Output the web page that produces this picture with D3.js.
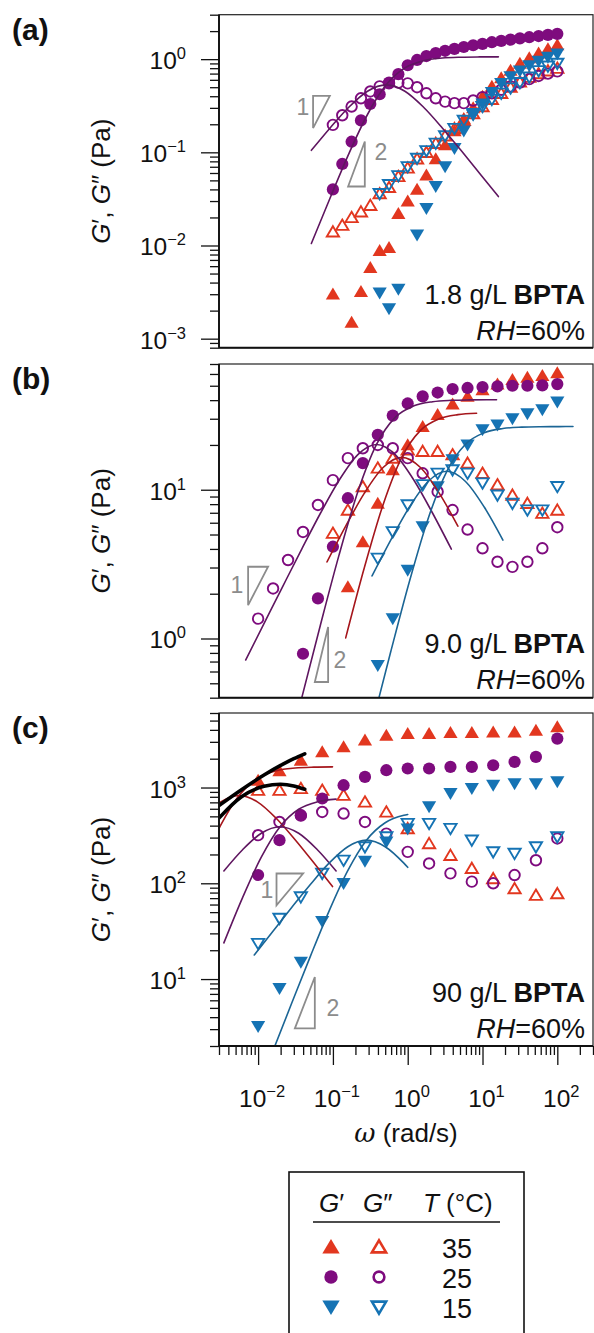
<!DOCTYPE html>
<html>
<head>
<meta charset="utf-8">
<script src="https://cdn.jsdelivr.net/npm/d3@7"></script>
<style>
  body { margin: 0; background: #fff; }
  svg text { font-family: 'Liberation Sans', Arial, sans-serif; }
</style>
</head>
<body>
<svg id="fig" width="594" height="1333"></svg>
<script>
// ---- frequency grids (rad/s) ----
const omegaA = [0.1,0.1334,0.1778,0.2371,0.3162,0.4217,0.5623,0.7499,1,1.334,1.778,2.371,3.162,4.217,5.623,7.499,10,13.34,17.78,23.71,31.62,42.17,56.23,74.99,100];
const omegaB = [0.01,0.01585,0.02512,0.03981,0.0631,0.1,0.1585,0.2512,0.3981,0.631,1,1.585,2.512,3.981,6.31,10,15.85,25.12,39.81,63.1,100];
const omegaC = [0.01,0.01931,0.03728,0.07197,0.1389,0.2683,0.5179,1,1.931,3.728,7.197,13.89,26.83,51.79,100];

// ---- (a) 1.8 g/L ----
const a35Gp  = [0.0030,null,0.0015,0.0032,0.0058,0.0088,0.0095,0.022,0.030,0.040,0.057,0.085,0.12,0.17,0.23,0.30,0.40,0.51,0.63,0.76,0.90,1.03,1.16,1.29,1.42];
const a35Gpp = [0.0140,0.0165,0.020,0.023,0.027,0.036,0.042,0.055,0.068,0.085,0.10,0.125,0.15,0.18,0.22,0.26,0.31,0.37,0.43,0.50,0.57,0.64,0.70,0.75,0.80];
const a25Gp  = [0.040,0.075,0.13,0.22,0.33,0.42,0.56,0.69,0.86,0.98,1.08,1.16,1.23,1.29,1.35,1.41,1.46,1.52,1.57,1.62,1.67,1.72,1.77,1.82,1.87];
const a25Gpp = [0.197,0.25,0.31,0.38,0.45,0.51,0.55,0.56,0.55,0.50,0.43,0.38,0.35,0.337,0.337,0.36,0.39,0.43,0.47,0.51,0.56,0.61,0.66,0.70,0.74];
const a15Gp  = [null,null,null,null,null,0.0031,0.0021,0.0034,null,0.013,0.025,0.043,0.07,0.11,0.17,0.25,0.33,0.44,0.55,0.65,0.75,0.85,0.95,1.05,1.14];
const a15Gpp = [null,null,null,null,null,0.036,0.045,0.056,0.07,0.086,0.104,0.125,0.15,0.18,0.22,0.26,0.31,0.37,0.43,0.49,0.56,0.64,0.75,0.84,0.90];

// ---- (b) 9.0 g/L ----
const b35Gp  = [null,null,null,null,null,null,2.22,4.47,8.1,13.6,20,26.6,32,37.7,42.4,47,51.3,55,57,58.4,61];
const b35Gpp = [null,null,null,null,null,5.1,7.3,10.5,14,16.3,18.5,18.1,18.1,17.2,15.1,12.9,10.8,9.2,8.1,6.95,7.3];
const b25Gp  = [null,null,null,0.79,1.86,4.14,8.77,15.1,23.4,31.5,38,42.4,45,47.5,48.3,49,49.5,50,50,50.3,51.3];
const b25Gpp = [1.36,2.17,3.37,5.2,7.9,11.6,16.3,19,20,19,16.3,12.9,9.7,7.3,5.4,4.04,3.28,3.03,3.28,4.04,5.6];
const b15Gp  = [null,null,null,null,null,null,null,null,0.66,1.36,2.88,5.65,10.5,15.9,20,25.3,27.3,30,32.4,34.5,39];
const b15Gpp = [null,null,null,null,null,null,null,null,3.46,5.22,7.9,10.8,12.9,13.6,12.9,11.1,9.2,8.1,7.3,7.3,10.5];

// ---- (c) 90 g/L ----
const c35Gp  = [1191,1490,1927,2355,2656,3119,3516,3663,3663,3750,3750,3800,3800,3963,4295];
const c35Gpp = [937,937,977,937,831,707,556,373,260,196,143,112,88,75,78];
const c25Gp  = [122,282,514,768,1057,1290,1517,1579,1579,1642,1642,1709,1851,2087,3243];
const c25Gpp = [318,437,510,556,535,437,330,213,161,127,104,100,122,174,294];
const c15Gp  = [3.2,8.0,15,40,100,170,270,370,630,870,980,1060,1100,1100,1150];
const c15Gpp = [23.5,43,72,127,174,240,305,421,421,373,282,213,205,240,305];

// ---- fit curves, [omega, G] ----
const fitA25Gp  = [[0.0515,0.0105],[0.0917,0.0324],[0.163,0.0964],[0.29,0.2547],[0.515,0.53],[0.917,0.805],[1.63,0.9636],[2.9,1.0276],[5.15,1.0495],[9.17,1.0567],[16.3,1.0589]];
const fitA25Gpp = [[0.0515,0.105],[0.0917,0.1827],[0.163,0.3048],[0.29,0.4529],[0.515,0.53],[0.917,0.4529],[1.63,0.3048],[2.9,0.1827],[5.15,0.105],[9.17,0.0594],[16.3,0.0335]];

const fitB35Gp  = [[0.1482,1.01],[0.2635,3.0],[0.4686,7.93],[0.8333,16.5],[1.482,25.07],[2.635,30.0],[4.686,31.99],[8.333,32.67]];
const fitB35Gpp = [[0.0833,3.267],[0.1482,5.689],[0.2635,9.4875],[0.4686,14.1],[0.8333,16.5],[1.482,14.1],[2.635,9.4875],[4.686,5.689]];
const fitB25Gp  = [[0.0383,0.399],[0.0681,1.233],[0.1212,3.663],[0.2154,9.684],[0.383,20.15],[0.681,30.616],[1.212,36.637],[2.154,39.067],[3.83,39.9],[6.81,40.17],[12.12,40.26],[15.4,40.28]];
const fitB25Gpp = [[0.00681,0.7165],[0.01212,1.2735],[0.02154,2.259],[0.0383,3.99],[0.0681,6.948],[0.1212,11.586],[0.2154,17.22],[0.383,20.15],[0.681,17.22],[1.212,11.586],[2.154,6.948],[3.83,3.99]];
const fitB15Gp  = [[0.3333,0.263],[0.5927,0.814],[1.054,2.418],[1.874,6.392],[3.333,13.3],[5.927,20.21],[10.54,24.18],[18.74,25.79],[33.33,26.34],[59.27,26.52],[105.4,26.57],[162,26.59]];
const fitB15Gpp = [[0.3333,2.633],[0.5927,4.586],[1.054,7.648],[1.874,11.366],[3.333,13.3],[5.927,11.366],[10.54,7.648],[18.74,4.586]];

const fitC35Gp  = [[0.001757,150],[0.003124,396.5],[0.005556,825],[0.00988,1253.5],[0.01757,1500],[0.03124,1599.5],[0.05556,1633.7],[0.0988,1644.7]];
const fitC35Gpp = [[0.001757,474.4],[0.003124,705],[0.005556,825],[0.00988,705],[0.01757,474.4],[0.03124,284.5],[0.05556,163.4],[0.0988,92.5]];
const fitC25Gp  = [[0.003486,23.87],[0.0062,70.9],[0.01103,187.4],[0.01961,390],[0.03486,592.6],[0.062,709.1],[0.1103,756.1]];
const fitC25Gpp = [[0.003486,134.5],[0.0062,224.3],[0.01103,333.3],[0.01961,390],[0.03486,333.3],[0.062,224.3],[0.1103,134.5]];
const fitC15Gp  = [[0.0158,1.78],[0.02809,5.58],[0.04994,17.26],[0.0888,51.27],[0.158,135.5],[0.2809,282],[0.4994,428.5],[0.888,512.7],[1.0,522.8]];
const fitC15Gpp = [[0.00888,17.83],[0.0158,31.6],[0.02809,55.8],[0.04994,97.2],[0.0888,162.2],[0.158,241],[0.2809,282],[0.4994,241],[0.888,162.2],[1.0,146.9]];
const fitCblkGp  = [[0.003,650],[0.006,950],[0.012,1350],[0.02,1700],[0.03,2000],[0.042,2250]];
const fitCblkGpp = [[0.003,480],[0.006,800],[0.012,1030],[0.02,1080],[0.03,1040],[0.042,960]];

// ---- slope triangles [omega, G] ----
const triA1 = [[0.0543,0.182],[0.0543,0.404],[0.0909,0.404]];
const triA2 = [[0.1596,0.043],[0.267,0.043],[0.267,0.1306]];
const triB1 = [[0.00735,1.675],[0.00735,3.035],[0.0136,3.035]];
const triB2 = [[0.0573,0.51],[0.0863,0.51],[0.0863,1.197]];
const triC1 = [[0.01762,59],[0.01762,126.5],[0.04,126.5]];
const triC2 = [[0.031,3.05],[0.0573,3.05],[0.0573,10.5]];

const temps = ["35", "25", "15"];

const RED = "#e2371f", PURPLE = "#7e0b7e", BLUE = "#1573b4";
const RED_FIT = "#a5161c", PURPLE_FIT = "#5f1660", BLUE_FIT = "#1b6595";
const GREY = "#8c8c8c";

const svg = d3.select("#fig");
const L = 219, R = 593;
const x = d3.scaleLog().domain([0.003, 300]).range([L, R]);

function markerPath(shape, s) {
  if (shape === "up") return `M0,${-6.6*s}L${7.1*s},${5.4*s}L${-7.1*s},${5.4*s}Z`;
  if (shape === "down") return `M0,${6.6*s}L${7.1*s},${-5.4*s}L${-7.1*s},${-5.4*s}Z`;
  return d3.symbol(d3.symbolCircle, Math.PI * Math.pow(6.1*s, 2))();
}

function isMajor(v) {
  const l = Math.log10(v);
  return Math.abs(l - Math.round(l)) < 1e-6;
}

function expLabel(sel, v, fs) {
  const e = Math.round(Math.log10(v));
  sel.append("tspan").text("10");
  sel.append("tspan").attr("dy", -10).attr("font-size", fs).text(e < 0 ? "\u2212" + (-e) : String(e));
}

const panels = [
  { id: "a", label: "(a)", top: 14.7, bottom: 347.7, dom: [8e-4, 3], conc: "1.8 g/L ",
    w: omegaA, data: [[a35Gp, a35Gpp], [a25Gp, a25Gpp], [a15Gp, a15Gpp]],
    fits: [[fitA25Gp, PURPLE_FIT, 1.6], [fitA25Gpp, PURPLE_FIT, 1.6]],
    tris: [[triA1, "1", [0.0398, 0.252]], [triA2, "2", [0.4365, 0.0832]]] },
  { id: "b", label: "(b)", top: 364, bottom: 697.7, dom: [0.4, 70], conc: "9.0 g/L ",
    w: omegaB, data: [[b35Gp, b35Gpp], [b25Gp, b25Gpp], [b15Gp, b15Gpp]],
    fits: [[fitB35Gp, RED_FIT, 1.6], [fitB35Gpp, RED_FIT, 1.6], [fitB25Gp, PURPLE_FIT, 1.6],
           [fitB25Gpp, PURPLE_FIT, 1.6], [fitB15Gp, BLUE_FIT, 1.6], [fitB15Gpp, BLUE_FIT, 1.6]],
    tris: [[triB1, "1", [0.00519, 2.018]], [triB2, "2", [0.1236, 0.631]]] },
  { id: "c", label: "(c)", top: 713, bottom: 1046, dom: [2, 6000], conc: "90 g/L ",
    w: omegaC, data: [[c35Gp, c35Gpp], [c25Gp, c25Gpp], [c15Gp, c15Gpp]],
    fits: [[fitC35Gp, RED_FIT, 1.6], [fitC35Gpp, RED_FIT, 1.6], [fitC25Gp, PURPLE_FIT, 1.6],
           [fitC25Gpp, PURPLE_FIT, 1.6], [fitC15Gp, BLUE_FIT, 1.6], [fitC15Gpp, BLUE_FIT, 1.6],
           [fitCblkGp, "#000", 3.6], [fitCblkGpp, "#000", 3.6]],
    tris: [[triC1, "1", [0.01306, 69.8]], [triC2, "2", [0.1, 4.1]]] }
];

const styles = [
  { color: RED, shape: "up" },
  { color: PURPLE, shape: "circle" },
  { color: BLUE, shape: "down" }
];

panels.forEach(p => {
  const y = d3.scaleLog().domain(p.dom).range([p.bottom, p.top]);
  const g = svg.append("g");

  svg.append("clipPath").attr("id", "clip-" + p.id).append("rect")
    .attr("x", L).attr("y", p.top).attr("width", R - L).attr("height", p.bottom - p.top);

  // y ticks
  const all = y.ticks();
  const majors = all.filter(isMajor);
  const minors = all.filter(v => !isMajor(v));
  const gMin = g.append("g").attr("transform", `translate(${L},0)`)
    .call(d3.axisLeft(y).tickValues(minors).tickSize(9).tickFormat(""));
  const gMaj = g.append("g").attr("transform", `translate(${L},0)`)
    .call(d3.axisLeft(y).tickValues(majors).tickSize(18).tickFormat(""));
  [gMin, gMaj].forEach(a => {
    a.select(".domain").remove();
    a.selectAll("line").attr("stroke", "#111").attr("stroke-width", 1.3);
  });
  majors.forEach(v => {
    const t = g.append("text").attr("x", 186).attr("y", y(v) + 10)
      .attr("text-anchor", "end").attr("font-size", 24.5).attr("fill", "#111");
    expLabel(t, v, 16.5);
  });

  // y title
  const cy = (p.top + p.bottom) / 2;
  const yt = g.append("text").attr("transform", `translate(110,${cy}) rotate(-90)`)
    .attr("text-anchor", "middle").attr("font-size", 26).attr("fill", "#111");
  yt.append("tspan").attr("font-style", "italic").text("G");
  yt.append("tspan").text("\u2032, ");
  yt.append("tspan").attr("font-style", "italic").text("G");
  yt.append("tspan").text("\u2033 (Pa)");

  // panel label
  g.append("text").attr("x", 12).attr("y", p.top + 25).attr("font-size", 30)
    .attr("font-weight", "bold").attr("fill", "#111").text(p.label);

  // slope triangles
  p.tris.forEach(([tri, lab, pos]) => {
    g.append("path")
      .attr("d", d3.line().x(d => x(d[0])).y(d => y(d[1]))(tri) + "Z")
      .attr("fill", "none").attr("stroke", GREY).attr("stroke-width", 1.8);
    g.append("text").attr("x", x(pos[0])).attr("y", y(pos[1]))
      .attr("text-anchor", "middle").attr("font-size", 23).attr("fill", GREY).text(lab);
  });

  // markers
  p.data.forEach((pair, ti) => {
    const st = styles[ti];
    pair.forEach((vals, k) => {
      const pts = p.w.map((w, i) => [w, vals[i]]).filter(d => d[1] != null);
      const filled = k === 0;
      g.append("g").selectAll("path").data(pts).join("path")
        .attr("transform", d => `translate(${x(d[0])},${y(d[1])})`)
        .attr("d", markerPath(st.shape, filled ? 1 : 0.86))
        .attr("fill", filled ? st.color : "none")
        .attr("stroke", filled ? "none" : st.color)
        .attr("stroke-width", filled ? 0 : 1.9);
    });
  });

  // fits
  const line = d3.line().x(d => x(d[0])).y(d => y(d[1])).curve(d3.curveMonotoneX);
  const gl = g.append("g").attr("clip-path", `url(#clip-${p.id})`);
  p.fits.forEach(([pts, col, sw]) => {
    gl.append("path").attr("d", line(pts)).attr("fill", "none")
      .attr("stroke", col).attr("stroke-width", sw).attr("stroke-linecap", "round");
  });

  // frame
  g.append("rect").attr("x", L).attr("y", p.top).attr("width", R - L).attr("height", p.bottom - p.top)
    .attr("fill", "none").attr("stroke", "#222").attr("stroke-width", 1.2);
  g.append("line").attr("x1", L).attr("x2", L).attr("y1", p.top).attr("y2", p.bottom)
    .attr("stroke", "#111").attr("stroke-width", 1.9);
  g.append("line").attr("x1", L).attr("x2", R).attr("y1", p.bottom).attr("y2", p.bottom)
    .attr("stroke", "#111").attr("stroke-width", 1.9);

  // annotation
  const t1 = g.append("text").attr("x", 585).attr("y", p.top + 289)
    .attr("text-anchor", "end").attr("font-size", 27).attr("fill", "#111");
  t1.append("tspan").text(p.conc);
  t1.append("tspan").attr("font-weight", "bold").text("BPTA");
  const t2 = g.append("text").attr("x", 585).attr("y", p.top + 325)
    .attr("text-anchor", "end").attr("font-size", 27).attr("fill", "#111");
  t2.append("tspan").attr("font-style", "italic").text("RH");
  t2.append("tspan").text("=60%");

  // x axis under the last panel
  if (p.id === "c") {
    const xt = x.ticks();
    const xMaj = xt.filter(isMajor), xMin = xt.filter(v => !isMajor(v));
    const a1 = g.append("g").attr("transform", `translate(0,${p.bottom})`)
      .call(d3.axisBottom(x).tickValues(xMin).tickSize(9).tickFormat(""));
    const a2 = g.append("g").attr("transform", `translate(0,${p.bottom})`)
      .call(d3.axisBottom(x).tickValues(xMaj).tickSize(19).tickFormat(""));
    [a1, a2].forEach(a => {
      a.select(".domain").remove();
      a.selectAll("line").attr("stroke", "#111").attr("stroke-width", 1.3);
    });
    xMaj.forEach(v => {
      const t = g.append("text").attr("x", x(v) + 4).attr("y", 1107)
        .attr("text-anchor", "middle").attr("font-size", 24.5).attr("fill", "#111");
      expLabel(t, v, 16.5);
    });
    const xl = g.append("text").attr("x", (L + R) / 2).attr("y", 1142)
      .attr("text-anchor", "middle").attr("font-size", 26).attr("fill", "#111");
    xl.append("tspan").attr("font-family", "'DejaVu Serif', 'Liberation Serif', serif")
      .attr("font-style", "italic").text("\u03c9");
    xl.append("tspan").text(" (rad/s)");
  }
});

// ---- legend ----
const lg = svg.append("g");
lg.append("rect").attr("x", 289).attr("y", 1172).attr("width", 235).attr("height", 200)
  .attr("fill", "none").attr("stroke", "#111").attr("stroke-width", 1.6);
const hd = [[319, "G", "\u2032"], [363, "G", "\u2033"]];
hd.forEach(([hx, a, b]) => {
  const t = lg.append("text").attr("x", hx).attr("y", 1212).attr("font-size", 26).attr("fill", "#111");
  t.append("tspan").attr("font-style", "italic").text(a);
  t.append("tspan").text(b);
});
const th = lg.append("text").attr("x", 423).attr("y", 1212).attr("font-size", 26).attr("fill", "#111");
th.append("tspan").attr("font-style", "italic").text("T");
th.append("tspan").text(" (\u00b0C)");
lg.append("line").attr("x1", 313).attr("x2", 500).attr("y1", 1222).attr("y2", 1222)
  .attr("stroke", "#111").attr("stroke-width", 1.6);
const rowY = [1247, 1277, 1307];
temps.forEach((tv, i) => {
  const st = styles[i];
  lg.append("path").attr("transform", `translate(331,${rowY[i]})`)
    .attr("d", markerPath(st.shape, st.shape === "circle" ? 1.1 : 1.22)).attr("fill", st.color);
  lg.append("path").attr("transform", `translate(379,${rowY[i]})`)
    .attr("d", markerPath(st.shape, st.shape === "circle" ? 0.88 : 1.0))
    .attr("fill", "none").attr("stroke", st.color).attr("stroke-width", 2.6);
  lg.append("text").attr("x", 457).attr("y", rowY[i] + 11).attr("text-anchor", "middle")
    .attr("font-size", 27).attr("fill", "#111").text(tv);
});
</script>
</body>
</html>
